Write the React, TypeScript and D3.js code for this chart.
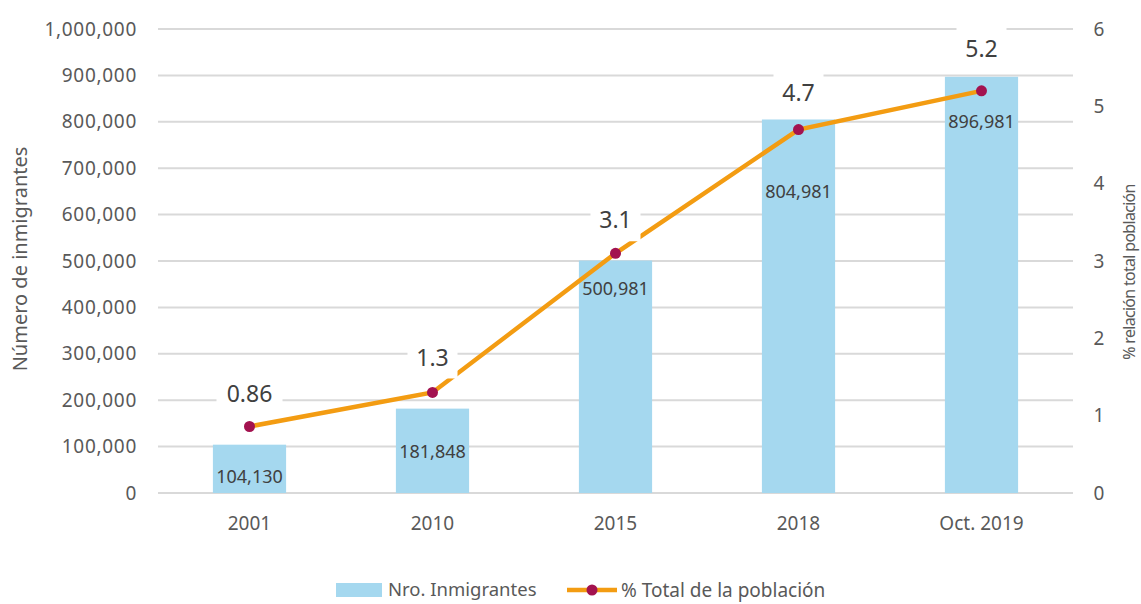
import React, { useEffect, useRef } from 'react';
import * as d3 from 'd3';

// data
const categories = ['2001', '2010', '2015', '2018', 'Oct. 2019'];
const inmigrantes = [104130, 181848, 500981, 804981, 896981];
const porcentaje = [0.86, 1.3, 3.1, 4.7, 5.2];
const porcentajeLabels = ['0.86', '1.3', '3.1', '4.7', '5.2'];
const leftTicks = [0, 100000, 200000, 300000, 400000, 500000, 600000, 700000, 800000, 900000, 1000000];
const rightTicks = [0, 1, 2, 3, 4, 5, 6];

// label offsets (kept apart from the data)
const barLabelDy = [32, 43, 28, 72, 45];
const lineLabelDy = [33, 35, 33, 37, 42];

const W = 1141;
const H = 604;
const FONT = "'Noto Sans', sans-serif";

const drawChart = (el: SVGSVGElement) => {
  const svg = d3.select(el);
  svg.selectAll('*').remove();

  const margin = { top: 29, right: 68, bottom: 111, left: 158 };
  const width = W - margin.left - margin.right;
  const height = H - margin.top - margin.bottom;

  const g = svg.append('g').attr('transform', `translate(${margin.left},${margin.top})`);

  const x = d3.scaleBand().domain(categories).range([0, width]).paddingInner(0.6).paddingOuter(0.3);
  const y = d3.scaleLinear().domain([0, 1000000]).range([height, 0]);
  const y2 = d3.scaleLinear().domain([0, 6]).range([height, 0]);
  const cx = (i: number) => (x(categories[i]) as number) + x.bandwidth() / 2;

  // gridlines
  g.selectAll('line.grid')
    .data(leftTicks)
    .enter()
    .append('line')
    .attr('class', 'grid')
    .attr('x1', 0)
    .attr('x2', width)
    .attr('y1', d => y(d))
    .attr('y2', d => y(d))
    .attr('stroke', '#d9d9d9')
    .attr('stroke-width', 2);

  // left tick labels
  g.selectAll('text.ly')
    .data(leftTicks)
    .enter()
    .append('text')
    .attr('x', -21)
    .attr('y', d => y(d))
    .attr('dy', '0.35em')
    .attr('text-anchor', 'end')
    .attr('font-family', FONT)
    .attr('font-size', 19)
    .attr('letter-spacing', 0.7)
    .attr('fill', '#595959')
    .text(d => d3.format(',')(d));

  // right tick labels
  g.selectAll('text.ry')
    .data(rightTicks)
    .enter()
    .append('text')
    .attr('x', width + 26)
    .attr('y', d => y2(d))
    .attr('dy', '0.35em')
    .attr('text-anchor', 'middle')
    .attr('font-family', FONT)
    .attr('font-size', 19)
    .attr('fill', '#595959')
    .text(d => d);

  // x labels
  g.selectAll('text.xl')
    .data(categories)
    .enter()
    .append('text')
    .attr('x', (d, i) => cx(i))
    .attr('y', height + 30)
    .attr('dy', '0.35em')
    .attr('text-anchor', 'middle')
    .attr('font-family', FONT)
    .attr('font-size', 19)
    .attr('fill', '#595959')
    .text(d => d);

  // axis titles
  svg
    .append('text')
    .attr('transform', `translate(20,${margin.top + 230}) rotate(-90)`)
    .attr('dy', '0.35em')
    .attr('text-anchor', 'middle')
    .attr('font-family', FONT)
    .attr('font-size', 20)
    .attr('fill', '#595959')
    .text('Número de inmigrantes');

  svg
    .append('text')
    .attr('transform', `translate(1129,${margin.top + 243}) rotate(-90)`)
    .attr('dy', '0.35em')
    .attr('text-anchor', 'middle')
    .attr('font-family', FONT)
    .attr('font-size', 16)
    .attr('letter-spacing', -0.7)
    .attr('fill', '#595959')
    .text('% relación total población');

  // bars
  g.selectAll('rect.bar')
    .data(inmigrantes)
    .enter()
    .append('rect')
    .attr('class', 'bar')
    .attr('x', (d, i) => x(categories[i]) as number)
    .attr('y', d => y(d))
    .attr('width', x.bandwidth())
    .attr('height', d => height - y(d))
    .attr('fill', '#a5d8ef');

  // bar labels
  g.selectAll('text.bl')
    .data(inmigrantes)
    .enter()
    .append('text')
    .attr('x', (d, i) => cx(i))
    .attr('y', (d, i) => y(d) + barLabelDy[i])
    .attr('dy', '0.35em')
    .attr('text-anchor', 'middle')
    .attr('font-family', FONT)
    .attr('font-size', 18)
    .attr('fill', '#404040')
    .text(d => d3.format(',')(d));

  // line
  const line = d3
    .line<number>()
    .x((d, i) => cx(i))
    .y(d => y2(d));

  g.append('path')
    .datum(porcentaje)
    .attr('d', line)
    .attr('fill', 'none')
    .attr('stroke', '#f39c12')
    .attr('stroke-width', 4.5);

  g.selectAll('circle.pt')
    .data(porcentaje)
    .enter()
    .append('circle')
    .attr('cx', (d, i) => cx(i))
    .attr('cy', d => y2(d))
    .attr('r', 5.5)
    .attr('fill', '#a3124f');

  // line labels with white boxes
  const lbl = g
    .selectAll('g.pl')
    .data(porcentaje)
    .enter()
    .append('g')
    .attr('transform', (d, i) => `translate(${cx(i)},${y2(d) - lineLabelDy[i]})`);

  lbl
    .append('rect')
    .attr('x', (d, i) => (porcentajeLabels[i].length > 3 ? -33 : -25))
    .attr('y', -21)
    .attr('width', (d, i) => (porcentajeLabels[i].length > 3 ? 66 : 50))
    .attr('height', 42)
    .attr('fill', '#ffffff');

  lbl
    .append('text')
    .attr('dy', '0.35em')
    .attr('text-anchor', 'middle')
    .attr('font-family', FONT)
    .attr('font-size', 23)
    .attr('fill', '#404040')
    .text((d, i) => porcentajeLabels[i]);

  // legend
  const leg = svg.append('g').attr('transform', 'translate(0,590)');
  leg.append('rect').attr('x', 336).attr('y', -7).attr('width', 46).attr('height', 14).attr('fill', '#a5d8ef');
  leg
    .append('text')
    .attr('x', 388)
    .attr('dy', '0.35em')
    .attr('font-family', FONT)
    .attr('font-size', 18.5)
    .attr('fill', '#595959')
    .text('Nro. Inmigrantes');
  leg.append('line').attr('x1', 567).attr('x2', 617).attr('stroke', '#f39c12').attr('stroke-width', 4.5);
  leg.append('circle').attr('cx', 592).attr('r', 5.5).attr('fill', '#a3124f');
  leg
    .append('text')
    .attr('x', 621)
    .attr('dy', '0.35em')
    .attr('font-family', FONT)
    .attr('font-size', 19)
    .attr('fill', '#595959')
    .text('% Total de la población');
};

export default function App() {
  const ref = useRef<SVGSVGElement>(null);
  useEffect(() => {
    if (ref.current) drawChart(ref.current);
  }, []);
  return (
    <svg
      ref={ref}
      width={W}
      height={H}
      style={{ position: 'absolute', left: 0, top: 0, background: '#ffffff' }}
    />
  );
}
